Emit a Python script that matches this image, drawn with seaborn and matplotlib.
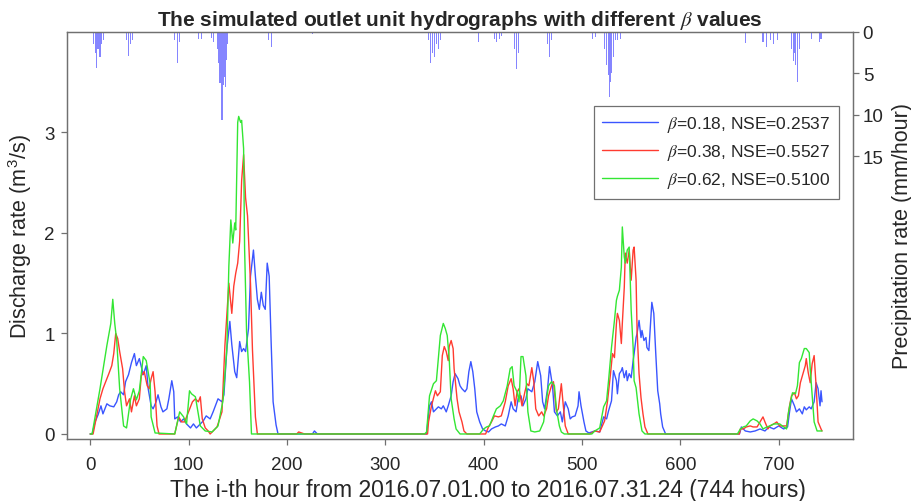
import matplotlib
matplotlib.use('Agg')
import matplotlib.pyplot as plt
import seaborn as sns

# discharge, hour index from 2016.07.01.00
hours_b18 = [0, 2, 5, 8, 11, 13, 17, 20, 24, 27, 29, 31, 34, 36, 39, 42, 45, 47, 50, 52,
             54, 57, 59, 62, 64, 67, 69, 72, 74, 78, 80, 83, 85, 86, 89, 92, 95, 98, 102, 105,
             108, 112, 115, 118, 122, 125, 130, 134, 136, 139, 142, 144, 147, 149, 152, 154, 156, 158, 161, 163,
             166, 168, 170, 172, 174, 176, 178, 180, 182, 184, 186, 189, 191, 226, 228, 231,
             342, 345, 347, 349, 352, 354, 357, 359, 362, 364, 367, 369, 371, 374, 376, 378, 381, 383, 385, 387,
             389, 391, 393, 396, 399, 402, 405, 408, 412, 415, 418, 422, 425, 428, 430, 433, 435, 438, 440, 443,
             445, 449, 452, 455, 458, 460, 462, 465, 467, 470, 472, 475, 478, 480, 483, 486, 488, 490, 493, 496,
             497, 499, 502, 504, 507, 513, 518, 522, 525, 527, 530, 532, 535, 536, 538, 540, 541, 543, 545, 546,
             548, 550, 552, 553, 555, 556, 558, 560, 561, 563, 565, 566, 568, 570, 571, 573, 575, 577, 579, 580,
             582, 585, 660, 661, 662, 666, 671, 676, 681, 686, 690, 695, 700, 705, 709, 711, 713, 716, 718, 721,
             724, 726, 728, 731, 733, 736, 738, 740, 742, 743, 744]
q_b18 = [0, 0, 0.12, 0.19, 0.28, 0.20, 0.30, 0.28, 0.27, 0.32, 0.39, 0.42, 0.39, 0.52, 0.59, 0.71, 0.80, 0.68, 0.75, 0.67,
         0.59, 0.68, 0.45, 0.28, 0.25, 0.32, 0.39, 0.27, 0.22, 0.25, 0.35, 0.53, 0.42, 0.15, 0.17, 0.12, 0.15, 0.10, 0.06, 0.10,
         0.06, 0.10, 0.13, 0.18, 0.15, 0.22, 0.35, 0.32, 0.39, 0.85, 1.12, 0.89, 0.62, 0.56, 0.92, 0.82, 0.85, 0.82, 1.05, 1.57,
         1.83, 1.57, 1.34, 1.24, 1.41, 1.28, 1.24, 1.70, 1.57, 0.91, 0.32, 0.09, 0, 0, 0.03, 0,
         0, 0.28, 0.32, 0.22, 0.25, 0.27, 0.25, 0.28, 0.22, 0.28, 0.38, 0.52, 0.60, 0.55, 0.48, 0.45, 0.42, 0.45, 0.62, 0.72,
         0.62, 0.45, 0.22, 0.12, 0.05, 0.03, 0.02, 0.05, 0.07, 0.08, 0.10, 0.08, 0.18, 0.32, 0.25, 0.22, 0.35, 0.38, 0.28, 0.35,
         0.45, 0.42, 0.52, 0.72, 0.58, 0.32, 0.25, 0.45, 0.67, 0.48, 0.22, 0.18, 0.22, 0.12, 0.32, 0.25, 0.15, 0.17, 0.18, 0.28,
         0.42, 0.28, 0.12, 0.03, 0.01, 0.03, 0.02, 0.17, 0.15, 0.23, 0.33, 0.63, 0.53, 0.40, 0.60, 0.63, 0.66, 0.56, 0.63, 0.53,
         0.60, 0.56, 0.73, 0.80, 0.96, 1.00, 1.13, 0.96, 1.03, 0.93, 0.96, 0.86, 0.83, 1.16, 1.31, 1.20, 0.80, 0.43, 0.30, 0.20,
         0.07, 0, 0, 0.03, 0.07, 0.03, 0.02, 0.03, 0.05, 0.03, 0.07, 0.05, 0.08, 0.05, 0.07, 0.22, 0.35, 0.28, 0.22, 0.25,
         0.20, 0.27, 0.24, 0.27, 0.25, 0.32, 0.51, 0.45, 0.28, 0.43, 0.32]

hours_b38 = [0, 3, 6, 10, 13, 17, 19, 22, 24, 26, 28, 30, 33, 35, 37, 40, 42, 45, 47, 50,
             52, 55, 58, 60, 62, 64, 66, 68, 70, 86, 90, 93, 96, 100, 104, 107, 110, 112, 114, 117,
             120, 122, 129, 134, 137, 141, 144, 146, 148, 150, 152, 154, 156, 158, 160, 163, 165, 168, 170, 210,
             212, 215, 218, 343, 344, 347, 351, 353, 356, 358, 360, 362, 364, 365, 367, 369, 370, 373, 375, 378,
             380, 383, 402, 405, 408, 411, 415, 418, 422, 425, 428, 430, 432, 434, 436, 439, 442, 444, 446, 449,
             451, 453, 456, 459, 461, 464, 466, 469, 471, 474, 476, 479, 481, 483, 486, 508, 513, 518, 523, 526,
             529, 531, 533, 535, 536, 538, 540, 541, 543, 544, 546, 548, 550, 552, 553, 555, 556, 558, 560, 562,
             564, 567, 660, 661, 664, 667, 671, 674, 678, 681, 684, 686, 689, 691, 695, 698, 701, 705, 708, 711,
             713, 716, 718, 720, 722, 725, 727, 728, 730, 732, 734, 736, 738, 740, 743, 744]
q_b38 = [0, 0, 0.15, 0.35, 0.45, 0.55, 0.60, 0.68, 0.80, 1.00, 0.95, 0.82, 0.65, 0.42, 0.28, 0.35, 0.22, 0.38, 0.28, 0.35,
         0.58, 0.62, 0.48, 0.45, 0.55, 0.62, 0.42, 0.08, 0, 0, 0.17, 0.12, 0.12, 0.22, 0.32, 0.35, 0.32, 0.37, 0.15, 0.06,
         0.03, 0, 0.07, 0.22, 0.88, 1.50, 1.20, 1.47, 1.60, 1.70, 1.92, 2.52, 2.78, 2.35, 2.17, 1.50, 0.84, 0.17, 0, 0,
         0.02, 0.01, 0, 0, 0.12, 0.28, 0.43, 0.38, 0.42, 0.78, 0.87, 0.82, 0.73, 0.87, 0.93, 0.85, 0.65, 0.35, 0.22, 0.12,
         0.03, 0, 0, 0.07, 0.12, 0.18, 0.17, 0.18, 0.32, 0.48, 0.55, 0.45, 0.28, 0.42, 0.45, 0.28, 0.42, 0.50, 0.48, 0.66,
         0.52, 0.25, 0.18, 0.22, 0.18, 0.25, 0.38, 0.48, 0.52, 0.22, 0.25, 0.50, 0.28, 0.08, 0, 0, 0.03, 0.02, 0.13, 0.33,
         0.60, 0.80, 0.76, 1.10, 1.20, 1.13, 0.90, 1.10, 1.46, 1.80, 1.70, 1.83, 1.53, 1.83, 1.86, 1.53, 1.03, 0.60, 0.36, 0.20,
         0.07, 0, 0, 0.05, 0.05, 0.07, 0.08, 0.07, 0.07, 0.12, 0.17, 0.12, 0.05, 0.08, 0.10, 0.12, 0.08, 0.08, 0.08, 0.28,
         0.38, 0.41, 0.35, 0.38, 0.51, 0.61, 0.68, 0.75, 0.61, 0.51, 0.70, 0.78, 0.48, 0.12, 0.05, 0.03]

hours_b62 = [0, 2, 10, 17, 21, 23, 25, 27, 30, 34, 37, 41, 44, 47, 50, 54, 57, 61, 62, 66,
             86, 91, 95, 98, 101, 103, 107, 112, 117, 124, 130, 135, 139, 141, 143, 145, 147, 148, 150, 151,
             153, 154, 156, 157, 159, 162, 164, 340, 342, 345, 349, 352, 356, 359, 361, 363, 365, 367, 370, 372,
             376, 396, 400, 403, 406, 410, 413, 417, 420, 424, 427, 429, 431, 434, 436, 438, 440, 443, 445, 448,
             452, 457, 461, 464, 466, 469, 472, 474, 477, 479, 482, 510, 513, 518, 522, 525, 527, 530, 533, 535,
             536, 538, 540, 541, 543, 544, 546, 548, 550, 552, 553, 555, 558, 561, 564, 658, 661, 664, 667, 671,
             674, 678, 681, 684, 688, 691, 695, 698, 701, 705, 708, 710, 712, 714, 717, 719, 721, 723, 726, 728,
             731, 732, 734, 736, 739, 744]
q_b62 = [0, 0, 0.45, 0.88, 1.10, 1.34, 1.10, 0.93, 0.45, 0.08, 0.06, 0.34, 0.45, 0.34, 0.43, 0.77, 0.73, 0.50, 0.17, 0.01,
         0, 0.22, 0.17, 0.10, 0.43, 0.40, 0.37, 0.08, 0.03, 0.02, 0.08, 0.33, 0.85, 1.67, 2.13, 1.90, 2.10, 2.03, 3.10, 3.16,
         3.10, 3.12, 2.84, 1.85, 1.02, 0.52, 0, 0, 0.02, 0.38, 0.50, 0.53, 0.98, 1.10, 1.05, 0.98, 0.75, 0.35, 0.15, 0.05,
         0, 0, 0.05, 0.07, 0.08, 0.18, 0.25, 0.28, 0.33, 0.48, 0.65, 0.67, 0.48, 0.42, 0.32, 0.77, 0.77, 0.58, 0.22, 0.03,
         0.02, 0.03, 0.12, 0.35, 0.48, 0.52, 0.48, 0.25, 0.08, 0.02, 0, 0, 0.03, 0.06, 0.27, 0.33, 0.53, 0.86, 1.13, 1.33,
         1.37, 1.43, 1.66, 2.06, 1.76, 1.70, 1.83, 1.86, 1.23, 0.86, 0.53, 0.46, 0.20, 0.03, 0, 0, 0.05, 0.07, 0.08, 0.13,
         0.15, 0.13, 0.10, 0.05, 0.07, 0.08, 0.10, 0.10, 0.10, 0.07, 0.05, 0.22, 0.32, 0.41, 0.40, 0.48, 0.71, 0.75, 0.85, 0.85,
         0.81, 0.65, 0.38, 0.12, 0.03, 0.03]

# hourly precipitation (mm/hour), hours with no rain left out
rain_hours = [3, 5, 6, 8, 10, 12, 14, 37, 39, 41, 43, 86, 89, 91, 110, 113, 123, 125,
              130, 131, 132, 133, 134, 135, 136, 137, 138, 139, 140, 181, 184, 226,
              344, 346, 348, 350, 352, 354, 356, 395, 411, 413, 416, 418, 431, 433, 435,
              465, 467, 469, 511, 514, 523, 525, 527, 528, 529, 530, 532, 534, 536, 539,
              666, 684, 688, 692, 695, 699, 713, 715, 716, 717, 719, 721, 733, 741, 743]
rain_mm = [1.5, 2.5, 4.4, 2.0, 3.0, 1.5, 1.0, 1.0, 2.9, 1.5, 1.0, 1.0, 3.7, 1.2, 0.9, 0.8, 0.7, 1.2,
           2.0, 3.8, 6.2, 5.5, 10.6, 7.5, 6.4, 5.5, 6.6, 3.4, 1.5, 1.0, 1.8, 0.3,
           1.0, 3.8, 2.5, 3.0, 1.5, 2.0, 1.0, 1.2, 0.8, 1.2, 0.8, 0.5, 2.0, 4.5, 2.5,
           1.5, 3.0, 1.0, 0.8, 0.6, 2.0, 4.0, 5.2, 7.9, 6.0, 5.0, 3.0, 1.0, 1.0, 0.8,
           1.3, 1.2, 1.8, 1.0, 1.5, 1.0, 2.0, 3.5, 2.5, 4.0, 6.0, 2.0, 0.9, 1.2, 0.8]

series = [
    (hours_b18, q_b18, '#3a55ff', r'$\beta$=0.18, NSE=0.2537'),
    (hours_b38, q_b38, '#ff3b30', r'$\beta$=0.38, NSE=0.5527'),
    (hours_b62, q_b62, '#33e633', r'$\beta$=0.62, NSE=0.5100'),
]

sns.set_style('white')
plt.rcParams['font.family'] = ['Liberation Sans', 'DejaVu Sans']
plt.rcParams['mathtext.fontset'] = 'stix'
axis_grey = '#707070'

fig = plt.figure(figsize=(9.12, 5.02), dpi=100)
ax = fig.add_axes([0.0735, 0.1235, 0.8618, 0.8108])
ax2 = ax.twinx()

# rain hangs from the top on the right axis
ax2.bar(rain_hours, rain_mm, width=1.1, color='#8585ff', linewidth=0)
ax2.set_ylim(49.2, 0)
ax2.set_yticks([0, 5, 10, 15])
ax2.set_ylabel('Precipitation rate (mm/hour)', fontsize=15.5, labelpad=6)

for hrs, q, col, lab in series:
    sns.lineplot(x=hrs, y=q, ax=ax, color=col, linewidth=1.0, label=lab,
                 estimator=None, sort=False)

ax.set_zorder(ax2.get_zorder() + 1)
ax.patch.set_visible(False)

ax.set_xlim(-23.5, 775.5)
ax.set_ylim(-0.05, 4.0)
ax.set_xticks(range(0, 701, 100))
ax.set_yticks([0, 1, 2, 3])
ax.set_xlabel('The i-th hour from 2016.07.01.00 to 2016.07.31.24 (744 hours)', fontsize=16.5, labelpad=3)
ax.xaxis.set_label_coords(0.535, -0.095)
ax.set_ylabel('Discharge rate (m$^{\\mathregular{3}}$/s)', fontsize=15.5, labelpad=7)
ax.set_title(r'The simulated outlet unit hydrographs with different $\beta$ values',
             fontsize=15, fontweight='bold', pad=5)

for a in (ax, ax2):
    for s in a.spines.values():
        s.set_color(axis_grey)
        s.set_linewidth(0.9)
    a.tick_params(direction='out', length=4, width=0.9, color=axis_grey, labelsize=13.5, pad=3)
ax.tick_params(right=False, top=False, left=True, bottom=True)
ax.tick_params(axis='x', pad=8)
ax.tick_params(axis='y', pad=5)

leg = ax.legend(loc='upper right', bbox_to_anchor=(0.993, 0.84), fontsize=12.5,
                frameon=True, fancybox=False, framealpha=1, edgecolor=axis_grey,
                handlelength=3.2, borderpad=0.5, labelspacing=0.45, handletextpad=0.5)
leg.get_frame().set_linewidth(0.9)

fig.savefig('out.png', dpi=100)
